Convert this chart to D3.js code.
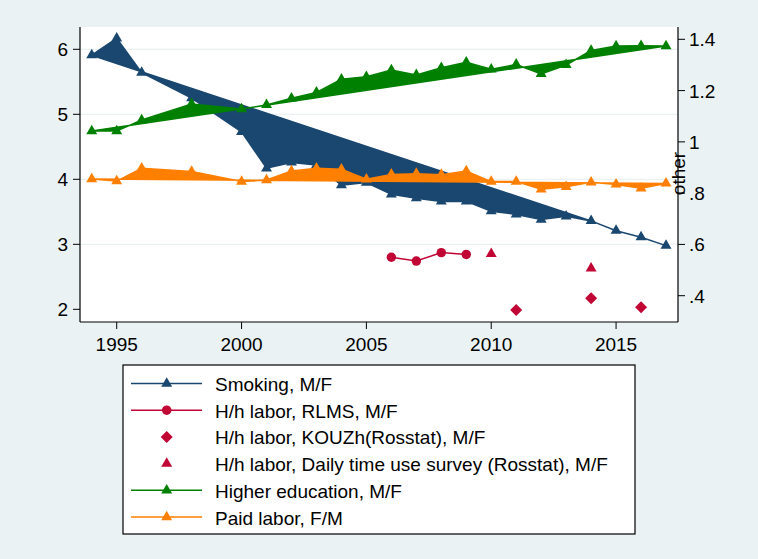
<!DOCTYPE html>
<html>
<head>
<meta charset="utf-8">
<script src="https://cdn.jsdelivr.net/npm/d3@7"></script>
<style>
  body { margin: 0; background: #eaf2f3; }
  svg { display: block; font-family: "Liberation Sans", Arial, sans-serif; }
</style>
</head>
<body>
<svg id="chart" width="758" height="559"></svg>
<script>
// series sharing the same years
const years = [1994, 1995, 1996, 1998, 2000, 2001, 2002, 2003, 2004, 2005, 2006, 2007, 2008, 2009, 2010, 2011, 2012, 2013, 2014, 2015, 2016, 2017]
const smoking = [5.91, 6.17, 5.64, 5.25, 4.73, 4.17, 4.26, 4.22, 3.91, 3.95, 3.77, 3.71, 3.66, 3.66, 3.51, 3.46, 3.38, 3.43, 3.36, 3.21, 3.11, 2.98]
const higherEd = [1.042, 1.042, 1.085, 1.148, 1.128, 1.144, 1.17, 1.193, 1.244, 1.254, 1.28, 1.261, 1.289, 1.31, 1.283, 1.302, 1.265, 1.3, 1.356, 1.374, 1.375, 1.374]
const paidLabor = [0.855, 0.847, 0.897, 0.884, 0.845, 0.851, 0.886, 0.897, 0.893, 0.854, 0.873, 0.876, 0.872, 0.886, 0.845, 0.845, 0.815, 0.825, 0.842, 0.834, 0.819, 0.838]
const smokingFillUntil = 2014

// household labor (right axis)
const rlmsYears = [2006, 2007, 2008, 2009]
const rlms = [0.55, 0.535, 0.568, 0.561]
const kouzhYears = [2011, 2014, 2016]
const kouzh = [0.344, 0.39, 0.355]
const dailyYears = [2010, 2014]
const daily = [0.563, 0.507]

const xTicks = [1995, 2000, 2005, 2010, 2015]
const yLeftTicks = [2, 3, 4, 5, 6]
const yRightTicks = [0.4, 0.6, 0.8, 1, 1.2, 1.4]
const legendLabels = [
  'Smoking, M/F',
  'H/h labor, RLMS, M/F',
  'H/h labor, KOUZh(Rosstat), M/F',
  'H/h labor, Daily time use survey (Rosstat), M/F',
  'Higher education, M/F',
  'Paid labor, F/M'
]

const navy = '#1a476f', red = '#c10534', green = '#008000', orange = '#ff7f00'

const svg = d3.select('#chart')
const pLeft = 80, pRight = 678, pTop = 27, pBottom = 322

const x = d3.scaleLinear().domain([1993.53, 2017.48]).range([pLeft, pRight])
const yL = d3.scaleLinear().domain([1.805, 6.343]).range([pBottom, pTop])
const yR = d3.scaleLinear().domain([0.2974, 1.448]).range([pBottom, pTop])

// plot region
svg.append('rect').attr('x', pLeft).attr('y', pTop).attr('width', pRight - pLeft).attr('height', pBottom - pTop).attr('fill', 'white')

// gridlines
svg.append('g').selectAll('line')
  .data(yLeftTicks.filter(d => d > 2))
  .enter().append('line')
  .attr('x1', pLeft).attr('x2', pRight)
  .attr('y1', d => yL(d)).attr('y2', d => yL(d))
  .attr('stroke', '#eaf2f3').attr('stroke-width', 1.3)

const tri = d3.symbol().type(d3.symbolTriangle).size(52)
const circ = d3.symbol().type(d3.symbolCircle).size(70)
const diam = d3.symbol().type(d3.symbolSquare).size(72)

function drawSeries(xs, ys, yScale, color, fillUntil) {
  const pts = xs.map((d, i) => [x(d), yScale(ys[i])])
  const n = xs.filter(d => d <= fillUntil).length
  const g = svg.append('g')
  g.append('path')
    .attr('d', 'M' + pts.slice(0, n).join('L') + 'Z')
    .attr('fill', color).attr('stroke', color).attr('stroke-width', 1.5)
  if (n < pts.length) {
    g.append('path')
      .attr('d', d3.line()(pts.slice(n - 1)))
      .attr('fill', 'none').attr('stroke', color).attr('stroke-width', 1.5)
  }
  g.selectAll('path.m').data(pts).enter().append('path').attr('class', 'm')
    .attr('transform', d => `translate(${d[0]},${d[1]})`)
    .attr('d', tri).attr('fill', color)
}

drawSeries(years, smoking, yL, navy, smokingFillUntil)

// RLMS connected line
const rlmsPts = rlmsYears.map((d, i) => [x(d), yR(rlms[i])])
svg.append('path').attr('d', d3.line()(rlmsPts)).attr('fill', 'none').attr('stroke', red).attr('stroke-width', 1.5)
svg.append('g').selectAll('path').data(rlmsPts).enter().append('path')
  .attr('transform', d => `translate(${d[0]},${d[1]})`).attr('d', circ).attr('fill', red)

svg.append('g').selectAll('path').data(kouzhYears).enter().append('path')
  .attr('transform', (d, i) => `translate(${x(d)},${yR(kouzh[i])}) rotate(45)`).attr('d', diam).attr('fill', red)

svg.append('g').selectAll('path').data(dailyYears).enter().append('path')
  .attr('transform', (d, i) => `translate(${x(d)},${yR(daily[i])})`).attr('d', tri).attr('fill', red)

drawSeries(years, higherEd, yR, green, 9999)
drawSeries(years, paidLabor, yR, orange, 9999)

// axes
const font = 19
svg.append('line').attr('x1', pLeft).attr('x2', pLeft).attr('y1', pTop).attr('y2', pBottom).attr('stroke', 'black').attr('stroke-width', 1.2)
svg.append('line').attr('x1', pRight).attr('x2', pRight).attr('y1', pTop).attr('y2', pBottom).attr('stroke', 'black').attr('stroke-width', 1.2)
svg.append('line').attr('x1', pLeft).attr('x2', pRight).attr('y1', pBottom).attr('y2', pBottom).attr('stroke', 'black').attr('stroke-width', 1.2)

const gl = svg.append('g')
yLeftTicks.forEach(t => {
  gl.append('line').attr('x1', pLeft - 7).attr('x2', pLeft).attr('y1', yL(t)).attr('y2', yL(t)).attr('stroke', 'black')
  gl.append('text').attr('x', pLeft - 12).attr('y', yL(t) + 7).attr('text-anchor', 'end').attr('font-size', font).text(t)
})
const gr = svg.append('g')
yRightTicks.forEach(t => {
  gr.append('line').attr('x1', pRight).attr('x2', pRight + 7).attr('y1', yR(t)).attr('y2', yR(t)).attr('stroke', 'black')
  gr.append('text').attr('x', pRight + 11).attr('y', yR(t) + 7).attr('font-size', font)
    .text(d3.format('.1f')(t).replace(/^0/, '').replace(/\.0$/, ''))
})
const gx = svg.append('g')
xTicks.forEach(t => {
  gx.append('line').attr('x1', x(t)).attr('x2', x(t)).attr('y1', pBottom).attr('y2', pBottom + 7).attr('stroke', 'black')
  gx.append('text').attr('x', x(t)).attr('y', pBottom + 29).attr('text-anchor', 'middle').attr('font-size', font).text(t)
})
svg.append('text').attr('transform', `translate(685,173.5) rotate(-90)`).attr('text-anchor', 'middle').attr('font-size', font).text('other')

// legend
const lg = svg.append('g')
lg.append('rect').attr('x', 123).attr('y', 365).attr('width', 512).attr('height', 169).attr('fill', 'white').attr('stroke', 'black').attr('stroke-width', 1.2)
const keys = [
  { color: navy, line: true, sym: tri, rot: 0 },
  { color: red, line: true, sym: circ, rot: 0 },
  { color: red, line: false, sym: diam, rot: 45 },
  { color: red, line: false, sym: tri, rot: 0 },
  { color: green, line: true, sym: tri, rot: 0 },
  { color: orange, line: true, sym: tri, rot: 0 }
]
legendLabels.forEach((label, i) => {
  const cy = 383.5 + i * 26.7
  const k = keys[i]
  if (k.line) lg.append('line').attr('x1', 131).attr('x2', 202).attr('y1', cy).attr('y2', cy).attr('stroke', k.color).attr('stroke-width', 1.5)
  lg.append('path').attr('transform', `translate(166.7,${cy}) rotate(${k.rot})`).attr('d', k.sym).attr('fill', k.color)
  lg.append('text').attr('x', 215).attr('y', cy + 7.5).attr('font-size', font).text(label)
})
</script>
</body>
</html>
